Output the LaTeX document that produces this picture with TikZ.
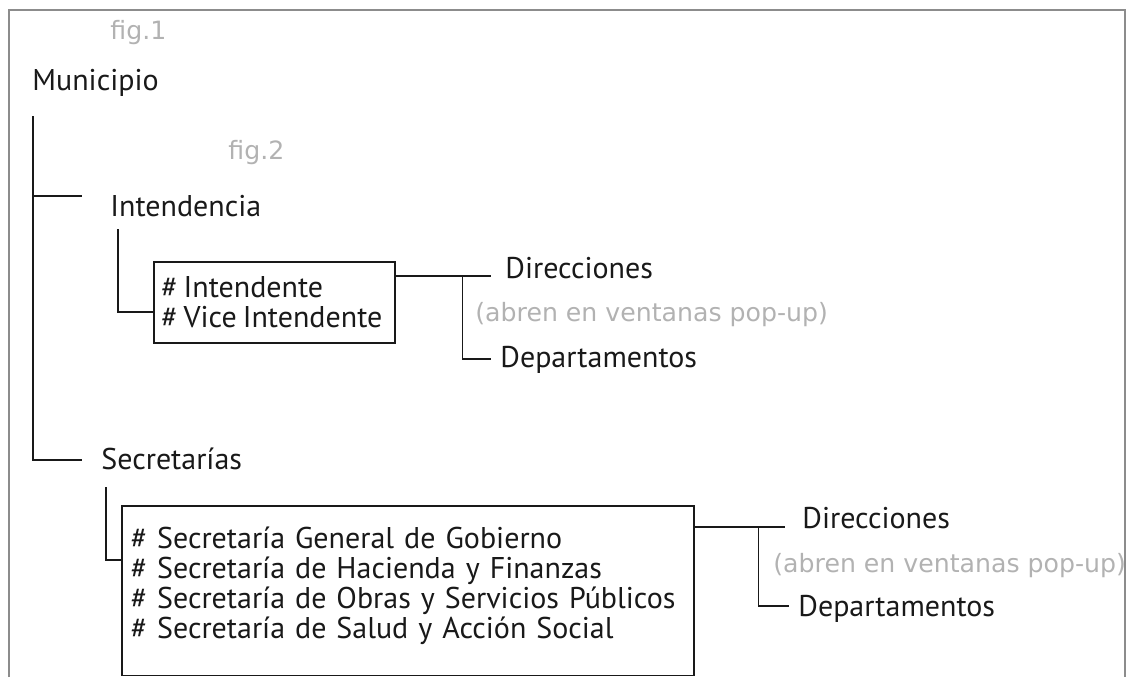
\documentclass[tikz,border=0pt]{standalone}
\usepackage{fontspec}
\setmainfont{PT Sans}
\newfontfamily\notefont{DejaVu Sans}
\usetikzlibrary{calc}
\definecolor{ink}{gray}{0.1}
\definecolor{notegray}{gray}{0.7}
\definecolor{framegray}{gray}{0.55}
\newcommand{\dropstrut}[1]{\rule[-#1]{0pt}{#1}}
\tikzset{
  lbl/.style={anchor=west, inner sep=0pt, text=ink, font=\fontsize{15}{15}\selectfont},
  note/.style={anchor=west, inner sep=0pt, text=notegray, font=\notefont\fontsize{12.6}{14}\selectfont},
  link/.style={draw=ink, line width=0.8pt},
  listbox/.style={draw=ink, line width=0.8pt, anchor=north west, align=left,
    inner xsep=4.5pt, text=ink, font=\fontsize{15}{15}\selectfont},
}
\begin{document}
\begin{tikzpicture}[x=0.5pt,y=-0.5pt]
\useasboundingbox (0,0) rectangle (1130,677);
\draw[framegray, line width=0.6pt] (9,677) -- (9,10) -- (1125,10) -- (1125,677);
% labels
\node[note] (fig1) at (110,33) {fig.1};
\node[lbl] (mun) at (32,83) {Municipio};
\node[note] (fig2) at (228,153) {fig.2};
\node[lbl] (int) at (110,206) {Intendencia};
\node[lbl] (sec) at (101,459) {Secretarías};
% boxes
\node[listbox, text width=113pt, inner xsep=3.75pt, inner ysep=7.5pt] (intbox) at (153,261)
  {\mbox{\#\hspace{0.2em}Intendente}\\\mbox{\#\hspace{0.2em}Vice\hspace{0.2em}Intendente}};
\node[listbox, text width=277pt, inner ysep=10.5pt] (secbox) at (121,505)
  {\# Secretaría General de Gobierno\\
   \# Secretaría de Hacienda y Finanzas\\
   \# Secretaría de Obras y Servicios Públicos\\
   \# Secretaría de Salud y Acción Social\dropstrut{8pt}};
% right side
\node[lbl] (idir) at (505,268) {Direcciones};
\node[note] (ipop) at (475,315) {(abren en ventanas pop-up)};
\node[lbl] (idep) at (500,360) {Departamentos};
\node[lbl] (sdir) at (802,518) {Direcciones};
\node[note] (spop) at (773,566) {(abren en ventanas pop-up)};
\node[lbl] (sdep) at (798,609) {Departamentos};
% tree lines
\coordinate (trunk) at (33,116);
\coordinate (intend) at ($(int.west)+(-28,-10)$);
\draw[link] (trunk) |- ($(sec.west)+(-19,1)$);
\draw[link] (trunk |- intend) -- (intend);
\coordinate (intdrop) at ($(int.west)+(8,23)$);
\draw[link] (intdrop) |- ($(intbox.north west)+(0,51)$);
\coordinate (secdrop) at ($(sec.west)+(5,28)$);
\draw[link] (secdrop) |- ($(secbox.north west)+(0,55)$);
\draw[link] ($(intbox.north east)+(0,15)$) -- ($(idir.west)+(-14,8)$);
\draw[link] ($(intbox.north east)+(67,15)$) |- ($(idep.west)+(-9,-1)$);
\draw[link] ($(secbox.north east)+(0,22)$) -- ($(sdir.west)+(-17,9)$);
\draw[link] ($(secbox.north east)+(64,22)$) |- ($(sdep.west)+(-9,-3)$);
\end{tikzpicture}
\end{document}
